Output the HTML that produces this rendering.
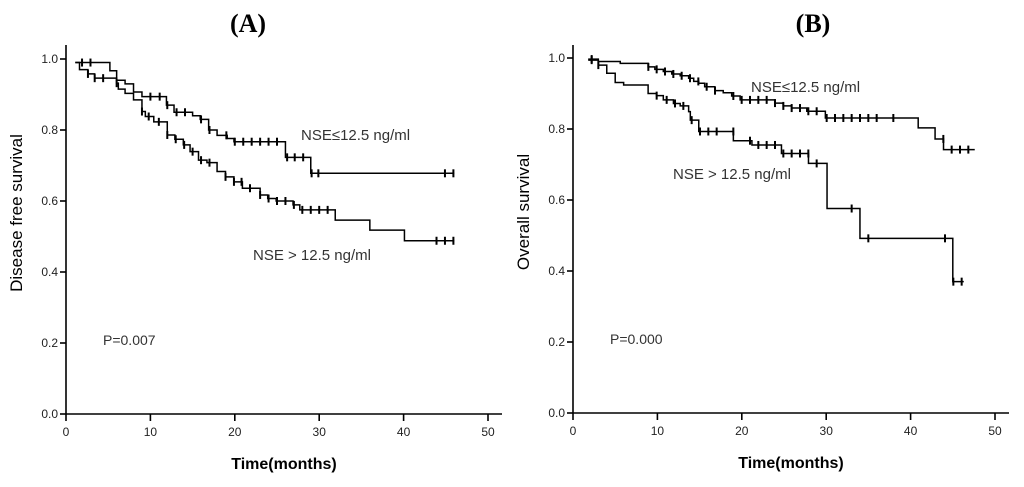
<!DOCTYPE html>
<html><head><meta charset="utf-8"><style>
body{margin:0;background:#fff;}
</style></head><body>
<svg id="s" width="1024" height="482" xmlns="http://www.w3.org/2000/svg">
<text x="248" y="32" style="font-family:'Liberation Serif',serif" font-size="26" font-weight="bold" text-anchor="middle">(A)</text>
<text x="813" y="32" style="font-family:'Liberation Serif',serif" font-size="26" font-weight="bold" text-anchor="middle">(B)</text>
</svg>
<script>
const ticksX=[0,10,20,30,40,50];
const ticksY=[0.0,0.2,0.4,0.6,0.8,1.0];
const zx=z=>(z/3-3)/8.44;
// Panel A
const aLowTimes=[1.1,5.2,6.0,7.0,8.0,9.0,11.9,12.8,15.0,15.9,16.9,17.9,19.1,19.9,26.0,29.0];
const aLowSurv=[0.99,0.967,0.94,0.93,0.907,0.894,0.87,0.85,0.84,0.83,0.80,0.785,0.776,0.767,0.723,0.678];
const aLowCens=[1.9,2.9,10,11.1,12,13.1,14.1,16,17,19,20,21,22,23,24,25,26.2,27.1,28.1,29.1,29.9,44.9,45.9];
const aHighTimes=[1.1,1.6,2.6,3.4,6.0,6.2,7.0,8.0,9.0,9.4,10.4,12.0,12.9,13.9,14.7,15.7,16.7,17.9,18.9,19.9,20.9,23.0,23.9,24.9,26.9,27.7,31.9,36.0,40.1];
const aHighSurv=[0.99,0.97,0.958,0.946,0.932,0.915,0.903,0.885,0.852,0.838,0.823,0.786,0.774,0.758,0.739,0.715,0.708,0.683,0.668,0.654,0.636,0.617,0.607,0.600,0.589,0.575,0.546,0.518,0.488];
const aHighCens=[2.6,3.4,4.4,6,9,9.8,11,12,13,14,15,16,17,18.9,19.9,20.8,21.8,23,24,25,26,27,28,29,30,31,43.9,44.9,45.9];
// Panel B
const bLowTimes=[1.8,3.0,5.6,8.9,9.7,10.7,11.7,12.7,13.7,14.3,14.9,15.6,16.8,17.8,18.8,19.8,23.9,24.9,25.9,27.7,29.9,40.9,42.9,43.9];
const bLowSurv=[0.997,0.99,0.985,0.975,0.968,0.962,0.955,0.95,0.943,0.934,0.929,0.919,0.908,0.902,0.893,0.882,0.873,0.865,0.859,0.85,0.831,0.803,0.772,0.742];
const bLowCens=[65,235,260,285,310,335,360,385,410,435,490,515,540,565,590,615,640,665,690,715,740,770,795,820,845,870,895,920,970,1120,1145,1170,1195].map(zx);
const bHighTimes=[1.8,3.0,4.0,5.0,6.0,8.9,9.9,10.7,11.9,12.7,13.7,13.9,14.9,19.0,21.2,24.7,27.9,30.1,34.0,45.0];
const bHighSurv=[0.994,0.98,0.957,0.931,0.924,0.9,0.894,0.882,0.872,0.865,0.849,0.825,0.793,0.767,0.755,0.731,0.703,0.576,0.492,0.37];
const bHighCens=[65,85,260,290,315,340,365,390,415,440,490,540,565,590,615,640,665,690,715,740,845,895,1125,1150,1175].map(zx);

const svg=document.getElementById('s');
const NS='http://www.w3.org/2000/svg';
const SANS="font-family:'Liberation Sans',sans-serif";
function mk(tag,attrs,parent){const e=document.createElementNS(NS,tag);for(const k in attrs)e.setAttribute(k,attrs[k]);(parent||svg).appendChild(e);return e;}
function panel(id,x0,y0,ylab,pLabel,series){
  const g=mk('g',{style:SANS});
  
  
  const X=t=>x0+t*8.44, Y=s=>y0-s*355;
  mk('line',{x1:x0,y1:y0,x2:x0+436,y2:y0,stroke:'#000','stroke-width':1.6},g);
  mk('line',{x1:x0,y1:y0,x2:x0,y2:45,stroke:'#000','stroke-width':1.6},g);
  ticksX.forEach(t=>{mk('line',{x1:X(t),y1:y0,x2:X(t),y2:y0+7,stroke:'#000','stroke-width':1.6},g);
    const tx=mk('text',{x:X(t),y:y0+22,'font-size':12,'text-anchor':'middle',fill:'#222'},g);tx.textContent=t;
    });
  ticksY.forEach(v=>{mk('line',{x1:x0-6,y1:Y(v),x2:x0,y2:Y(v),stroke:'#000','stroke-width':1.6},g);
    const tx=mk('text',{x:x0-8,y:Y(v)+4,'font-size':12,'text-anchor':'end',fill:'#222'},g);tx.textContent=v.toFixed(1);
    });
  const xt=mk('text',{x:x0+218,y:y0+55,'font-size':16,'font-weight':'bold','text-anchor':'middle'},g);xt.textContent='Time(months)';
  
  const yt=mk('text',{x:0,y:0,'font-size':17,'text-anchor':'middle',transform:`translate(${x0-44},${y0-201}) rotate(-90)`},g);yt.textContent=ylab;
  
  const pt=mk('text',{x:x0+37,y:y0-69,'font-size':14,fill:'#333'},g);pt.textContent=pLabel;
  
  series.forEach(sr=>{
    let d=`M${X(sr.t[0])},${Y(sr.s[0])}`;
    for(let i=1;i<sr.t.length;i++){d+=`H${X(sr.t[i])}V${Y(sr.s[i])}`;}
    d+=`H${X(sr.end)}`;
    const p=mk('path',{d:d,fill:'none',stroke:'#000','stroke-width':1.5},g);
    
    sr.c.forEach(c=>{let s=sr.s[0];for(let i=0;i<sr.t.length;i++){if(sr.t[i]<=c)s=sr.s[i];}
      const m=mk('line',{x1:X(c),y1:Y(s)-4,x2:X(c),y2:Y(s)+4,stroke:'#000','stroke-width':2},g);
      });
    const lt=mk('text',{x:sr.lx,y:sr.ly,'font-size':15,fill:'#333'},g);lt.textContent=sr.label;
    
  });
}
panel('panel-a',66,414,'Disease free survival','P=0.007',[
 {name:'nse-low',t:aLowTimes,s:aLowSurv,c:aLowCens,end:46,label:'NSE≤12.5 ng/ml',lx:301,ly:140},
 {name:'nse-high',t:aHighTimes,s:aHighSurv,c:aHighCens,end:46,label:'NSE > 12.5 ng/ml',lx:253,ly:260}]);
panel('panel-b',573,413,'Overall survival','P=0.000',[
 {name:'nse-low',t:bLowTimes,s:bLowSurv,c:bLowCens,end:47.6,label:'NSE≤12.5 ng/ml',lx:751,ly:92},
 {name:'nse-high',t:bHighTimes,s:bHighSurv,c:bHighCens,end:46.3,label:'NSE > 12.5 ng/ml',lx:673,ly:179}]);
</script>
</body></html>
